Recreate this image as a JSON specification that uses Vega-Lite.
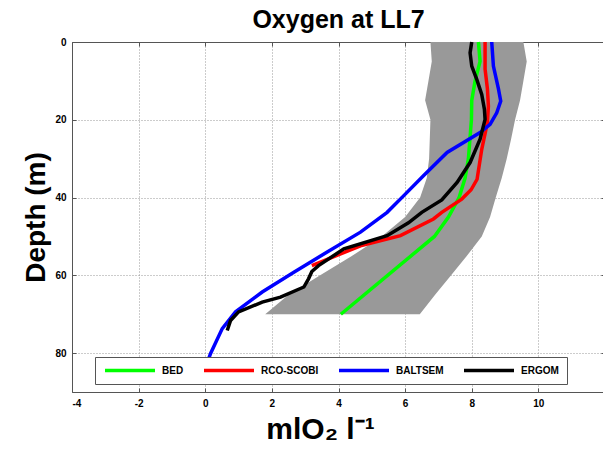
{
  "$schema": "https://vega.github.io/schema/vega-lite/v6.json",
  "width": 533,
  "height": 350,
  "autosize": {"type": "none"},
  "padding": {"left": 72, "top": 42, "right": 0, "bottom": 64},
  "background": "white",
  "title": {
    "text": "Oxygen at LL7",
    "font": "Liberation Sans",
    "fontSize": 25,
    "fontWeight": "bold",
    "color": "black",
    "anchor": "middle",
    "offset": 2
  },
  "config": {"font": "Liberation Sans", "view": {"stroke": null}},
  "datasets": {
    "band": [
      {"depth": 0, "lo": 6.76, "hi": 9.55},
      {"depth": 5, "lo": 6.8, "hi": 9.65},
      {"depth": 10, "lo": 6.7, "hi": 9.55},
      {"depth": 15, "lo": 6.6, "hi": 9.45},
      {"depth": 20, "lo": 6.76, "hi": 9.3},
      {"depth": 25, "lo": 6.74, "hi": 9.18},
      {"depth": 30, "lo": 6.72, "hi": 9.05},
      {"depth": 35, "lo": 6.65, "hi": 8.9},
      {"depth": 40, "lo": 6.45, "hi": 8.72},
      {"depth": 45, "lo": 6.0, "hi": 8.55},
      {"depth": 50, "lo": 5.3, "hi": 8.3},
      {"depth": 55, "lo": 4.4, "hi": 7.85},
      {"depth": 60, "lo": 3.45, "hi": 7.38},
      {"depth": 65, "lo": 2.5, "hi": 6.9},
      {"depth": 70, "lo": 1.8, "hi": 6.44}
    ],
    "profiles": [
      {"model": "BED", "depth": 0, "oxygen": 8.2},
      {"model": "BED", "depth": 5, "oxygen": 8.25},
      {"model": "BED", "depth": 10, "oxygen": 8.1},
      {"model": "BED", "depth": 15, "oxygen": 8.0},
      {"model": "BED", "depth": 20, "oxygen": 7.99},
      {"model": "BED", "depth": 30, "oxygen": 7.9},
      {"model": "BED", "depth": 35, "oxygen": 7.8},
      {"model": "BED", "depth": 40, "oxygen": 7.62},
      {"model": "BED", "depth": 45, "oxygen": 7.3},
      {"model": "BED", "depth": 50, "oxygen": 6.88},
      {"model": "BED", "depth": 70, "oxygen": 4.07},

      {"model": "RCO-SCOBI", "depth": 0, "oxygen": 8.4},
      {"model": "RCO-SCOBI", "depth": 7, "oxygen": 8.4},
      {"model": "RCO-SCOBI", "depth": 12, "oxygen": 8.47},
      {"model": "RCO-SCOBI", "depth": 16.5, "oxygen": 8.5},
      {"model": "RCO-SCOBI", "depth": 20.7, "oxygen": 8.47},
      {"model": "RCO-SCOBI", "depth": 27.6, "oxygen": 8.3},
      {"model": "RCO-SCOBI", "depth": 35.3, "oxygen": 8.16},
      {"model": "RCO-SCOBI", "depth": 38, "oxygen": 7.98},
      {"model": "RCO-SCOBI", "depth": 40.4, "oxygen": 7.7},
      {"model": "RCO-SCOBI", "depth": 43.8, "oxygen": 7.1},
      {"model": "RCO-SCOBI", "depth": 45.5, "oxygen": 6.85},
      {"model": "RCO-SCOBI", "depth": 49.8, "oxygen": 5.86},
      {"model": "RCO-SCOBI", "depth": 52.4, "oxygen": 4.66},
      {"model": "RCO-SCOBI", "depth": 57.5, "oxygen": 3.2},

      {"model": "BALTSEM", "depth": 0, "oxygen": 8.6},
      {"model": "BALTSEM", "depth": 6.2, "oxygen": 8.65},
      {"model": "BALTSEM", "depth": 12, "oxygen": 8.8},
      {"model": "BALTSEM", "depth": 15.2, "oxygen": 8.87},
      {"model": "BALTSEM", "depth": 18.2, "oxygen": 8.75},
      {"model": "BALTSEM", "depth": 21.2, "oxygen": 8.55},
      {"model": "BALTSEM", "depth": 23.3, "oxygen": 8.25},
      {"model": "BALTSEM", "depth": 28.4, "oxygen": 7.26},
      {"model": "BALTSEM", "depth": 34.4, "oxygen": 6.55},
      {"model": "BALTSEM", "depth": 39.5, "oxygen": 5.96},
      {"model": "BALTSEM", "depth": 43.8, "oxygen": 5.46},
      {"model": "BALTSEM", "depth": 48.9, "oxygen": 4.66},
      {"model": "BALTSEM", "depth": 54, "oxygen": 3.66},
      {"model": "BALTSEM", "depth": 59.2, "oxygen": 2.66},
      {"model": "BALTSEM", "depth": 64.3, "oxygen": 1.71},
      {"model": "BALTSEM", "depth": 69.4, "oxygen": 0.91},
      {"model": "BALTSEM", "depth": 73.7, "oxygen": 0.51},
      {"model": "BALTSEM", "depth": 80.1, "oxygen": 0.16},
      {"model": "BALTSEM", "depth": 82, "oxygen": 0.08},

      {"model": "ERGOM", "depth": 0, "oxygen": 8.0},
      {"model": "ERGOM", "depth": 2.8, "oxygen": 7.95},
      {"model": "ERGOM", "depth": 6.2, "oxygen": 8.0},
      {"model": "ERGOM", "depth": 9.6, "oxygen": 8.15},
      {"model": "ERGOM", "depth": 13.5, "oxygen": 8.3},
      {"model": "ERGOM", "depth": 17.3, "oxygen": 8.38},
      {"model": "ERGOM", "depth": 19.9, "oxygen": 8.4},
      {"model": "ERGOM", "depth": 25, "oxygen": 8.25},
      {"model": "ERGOM", "depth": 31, "oxygen": 7.95},
      {"model": "ERGOM", "depth": 36.1, "oxygen": 7.56},
      {"model": "ERGOM", "depth": 40.6, "oxygen": 7.1},
      {"model": "ERGOM", "depth": 43.8, "oxygen": 6.5},
      {"model": "ERGOM", "depth": 46.5, "oxygen": 6.1},
      {"model": "ERGOM", "depth": 49.8, "oxygen": 5.46},
      {"model": "ERGOM", "depth": 53.2, "oxygen": 4.16},
      {"model": "ERGOM", "depth": 57.5, "oxygen": 3.4},
      {"model": "ERGOM", "depth": 59, "oxygen": 3.2},
      {"model": "ERGOM", "depth": 60.9, "oxygen": 3.1},
      {"model": "ERGOM", "depth": 63, "oxygen": 2.96},
      {"model": "ERGOM", "depth": 65.6, "oxygen": 2.26},
      {"model": "ERGOM", "depth": 66.9, "oxygen": 1.71},
      {"model": "ERGOM", "depth": 69.4, "oxygen": 1.0},
      {"model": "ERGOM", "depth": 71.6, "oxygen": 0.76},
      {"model": "ERGOM", "depth": 74.2, "oxygen": 0.66}
    ]
  },
  "layer": [
    {
      "data": {"name": "band"},
      "mark": {"type": "area", "orient": "horizontal", "color": "#999999", "opacity": 1},
      "encoding": {
        "x": {
          "field": "lo",
          "type": "quantitative",
          "scale": {"domain": [-4, 12], "nice": false, "zero": false},
          "axis": {
            "orient": "bottom",
            "values": [-4, -2, 0, 2, 4, 6, 8, 10],
            "labelExpr": "toString(datum.value)",
            "grid": true,
            "gridDash": [1, 2],
            "gridColor": "#999999",
            "gridOpacity": 1,
            "domainColor": "#555555",
            "tickColor": "#555555",
            "tickSize": -4,
            "labelFontSize": 10,
            "labelFontWeight": "bold",
            "labelColor": "black",
            "labelPadding": 10,
            "title": "mlO₂ l⁻¹",
            "titleFontSize": 30,
            "titleFontWeight": "bold",
            "titleColor": "black",
            "titleX": 248,
            "titlePadding": 6
          }
        },
        "x2": {"field": "hi"},
        "y": {
          "field": "depth",
          "type": "quantitative",
          "scale": {"domain": [0, 90], "reverse": true, "nice": false, "zero": false},
          "axis": {
            "orient": "left",
            "values": [0, 20, 40, 60, 80],
            "grid": true,
            "gridDash": [1, 2],
            "gridColor": "#999999",
            "gridOpacity": 1,
            "domainColor": "#555555",
            "tickColor": "#555555",
            "tickSize": -4,
            "labelFontSize": 10,
            "labelFontWeight": "bold",
            "labelColor": "black",
            "labelPadding": 10,
            "title": "Depth (m)",
            "titleFontSize": 28,
            "titleFontWeight": "bold",
            "titleColor": "black",
            "titlePadding": 4
          }
        }
      }
    },
    {
      "data": {"name": "profiles"},
      "mark": {"type": "line", "strokeWidth": 3.5},
      "encoding": {
        "x": {
          "field": "oxygen",
          "type": "quantitative",
          "scale": {"domain": [-4, 12], "nice": false, "zero": false},
          "axis": {
            "orient": "top",
            "values": [-4, -2, 0, 2, 4, 6, 8, 10],
            "labels": false,
            "grid": false,
            "title": null,
            "domainColor": "#555555",
            "tickColor": "#555555",
            "tickSize": -4
          }
        },
        "y": {
          "field": "depth",
          "type": "quantitative",
          "scale": {"domain": [0, 90], "reverse": true, "nice": false, "zero": false},
          "axis": {
            "orient": "right",
            "values": [0, 20, 40, 60, 80],
            "labels": false,
            "grid": false,
            "title": null,
            "domainColor": "#555555",
            "tickColor": "#555555",
            "tickSize": -4
          }
        },
        "color": {
          "field": "model",
          "type": "nominal",
          "scale": {
            "domain": ["BED", "RCO-SCOBI", "BALTSEM", "ERGOM"],
            "range": ["#00ff00", "#ff0000", "#0000ff", "#000000"]
          },
          "legend": {
            "title": null,
            "orient": "none",
            "legendX": 23,
            "legendY": 315,
            "direction": "horizontal",
            "columns": 4,
            "symbolType": "stroke",
            "symbolSize": 2500,
            "symbolStrokeWidth": 3.5,
            "clipHeight": 11,
            "labelFont": "Liberation Sans",
            "labelFontSize": 10,
            "labelFontWeight": "bold",
            "labelColor": "black",
            "labelOffset": 5,
            "columnPadding": 18,
            "padding": 8,
            "fillColor": "white",
            "strokeColor": "#555555"
          }
        },
        "order": {"field": "depth"}
      }
    }
  ],
  "resolve": {"axis": {"x": "independent", "y": "independent"}}
}
